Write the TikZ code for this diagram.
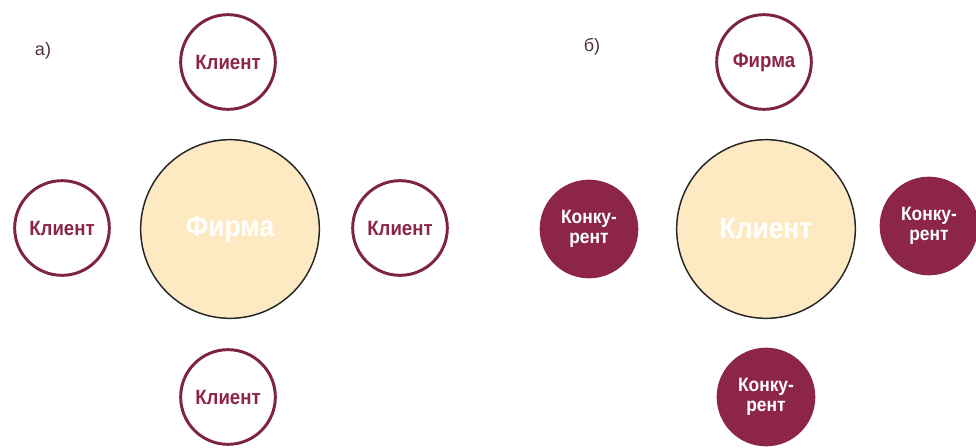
\documentclass[tikz,border=0pt]{standalone}
\usepackage{fontspec}
\setmainfont{Liberation Sans}
\newfontfamily\condf{Liberation Sans}[FakeStretch=0.9]
\definecolor{maroon}{HTML}{8C2548}
\definecolor{maroonline}{HTML}{7E2343}
\definecolor{peach}{HTML}{FDE9C2}
\definecolor{labelcol}{HTML}{4E3340}
\tikzset{
  bigc/.style={circle, fill=peach, draw=black!85, line width=1.1pt, minimum size=134pt, inner sep=0pt,
    font=\condf\bfseries\fontsize{22}{24}\selectfont, text=white},
  openc/.style={circle, draw=maroonline, line width=2.2pt, fill=white, minimum size=71pt, inner sep=0pt,
    font=\condf\bfseries\fontsize{15.5}{17}\selectfont, text=maroon},
  fillc/.style={circle, fill=maroon, draw=none, minimum size=74pt, inner sep=0pt, align=center,
    font=\condf\bfseries\fontsize{14.5}{14.5}\selectfont, text=white},
  panellabel/.style={font=\fontsize{13.5}{15}\selectfont, text=labelcol}
}
\begin{document}
\begin{tikzpicture}[x=0.75pt,y=-0.75pt]
\useasboundingbox (0,0) rectangle (976,447);
% panel a
\node[panellabel] (la) at (43,51) {а)};
\node[bigc] (afirm) at (230,229) {Фирма};
\node[openc] (atop) at (228,62) {Клиент};
\node[openc] (aleft) at (62,228) {Клиент};
\node[openc] (aright) at (400,228) {Клиент};
\node[openc] (abot) at (228,397) {Клиент};
% panel b
\node[panellabel] (lb) at (592,47) {б)};
\node[bigc] (bclient) at (766,229) {Клиент};
\node[openc] (btop) at (764,62) {Фирма};
\node[fillc] (bleft) at (589,229) {Конку-\\рент};
\node[fillc] (bright) at (929,226) {Конку-\\рент};
\node[fillc] (bbot) at (766,397) {Конку-\\рент};
\end{tikzpicture}
\end{document}
